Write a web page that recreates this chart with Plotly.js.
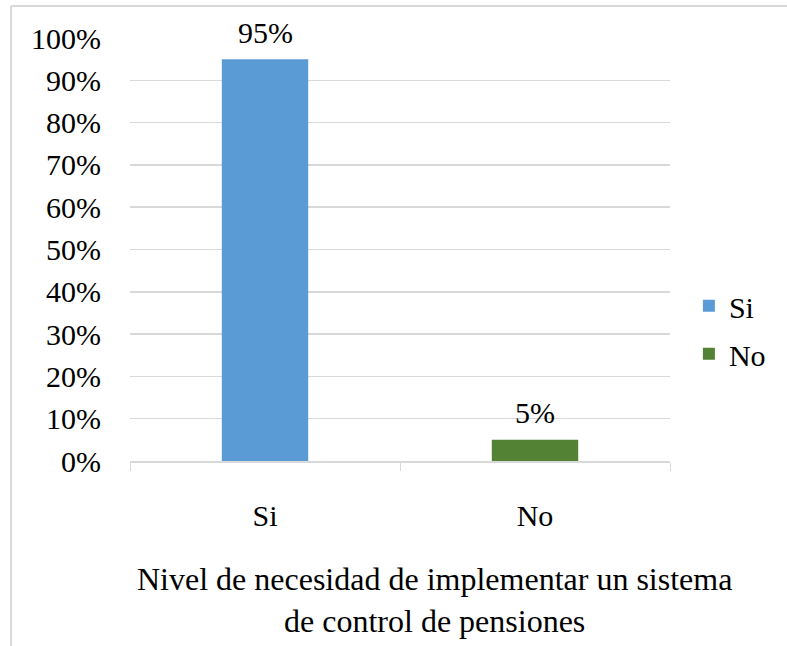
<!DOCTYPE html>
<html>
<head>
<meta charset="utf-8">
<script src="https://cdn.plot.ly/plotly-3.0.1.min.js"></script>
<style>html,body{margin:0;padding:0;background:#fff;overflow:hidden;}#chart{width:787px;height:646px;}</style>
</head>
<body>
<div id="chart"></div>
<script>
const categories = ["Si", "No"];
const values = [0.95, 0.05];
const labels = ["95%", "5%"];
const colors = ["#5b9bd5", "#548235"];
const yTickVals = [0, 0.1, 0.2, 0.3, 0.4, 0.5, 0.6, 0.7, 0.8, 0.9, 1.0];
const yTickText = ["0%", "10%", "20%", "30%", "40%", "50%", "60%", "70%", "80%", "90%", "100%"];
const axisTitle = "Nivel de necesidad de implementar un sistema<br>de control de pensiones";

const fontFam = "Liberation Serif";
const traces = categories.map((c, i) => ({
  type: "bar",
  name: c,
  legendgroup: "g" + i,
  x: [c],
  y: [values[i]],
  marker: {color: colors[i]},
  hoverinfo: "none"
}));

const valueLabels = categories.map((c, i) => ({
  x: c, y: values[i], xref: "x", yref: "y",
  text: labels[i], showarrow: false,
  xanchor: "center", yanchor: "middle", yshift: 27,
  font: {family: fontFam, size: 30, color: "#000"}
}));

const layout = {
  width: 787, height: 646,
  margin: {l: 130, r: 117, t: 38, b: 185},
  paper_bgcolor: "#fff", plot_bgcolor: "#fff",
  barmode: "overlay",
  bargap: 0.68,
  font: {family: fontFam, size: 30, color: "#000"},
  showlegend: true,
  legend: {x: 1.035, y: 0.31, xanchor: "left", yanchor: "middle", font: {family: fontFam, size: 30}, itemwidth: 30, traceorder: "grouped", tracegroupgap: 6},
  xaxis: {
    type: "category",
    showline: true, linecolor: "#d9d9d9", linewidth: 1.5,
    ticks: "outside", tickson: "boundaries", ticklen: 8, tickcolor: "#d9d9d9",
    tickfont: {family: fontFam, size: 30}, showgrid: false, zeroline: false,
    ticklabelstandoff: 27
  },
  yaxis: {
    range: [0, 1],
    tickvals: yTickVals, ticktext: yTickText,
    showgrid: true, gridcolor: "#d9d9d9", gridwidth: 1.5,
    zeroline: false, showline: false, ticks: "",
    tickfont: {family: fontFam, size: 30}, ticklabelstandoff: 28
  },
  annotations: valueLabels.concat([{
    text: axisTitle, xref: "paper", yref: "paper",
    x: 0.563, y: -0.232, xanchor: "center", yanchor: "top",
    showarrow: false, font: {family: fontFam, size: 32}, align: "center"
  }]),
  shapes: [
    {type: "line", xref: "paper", yref: "paper", x0: -0.2204, x1: -0.2204, y0: 1.0757, y1: -0.6, line: {color: "#d9d9d9", width: 2}},
    {type: "line", xref: "paper", yref: "paper", x0: -0.2204, x1: 1.3, y0: 1.0757, y1: 1.0757, line: {color: "#d9d9d9", width: 2}}
  ]
};

Plotly.newPlot("chart", traces, layout, {displayModeBar: false, staticPlot: true});
</script>
</body>
</html>
